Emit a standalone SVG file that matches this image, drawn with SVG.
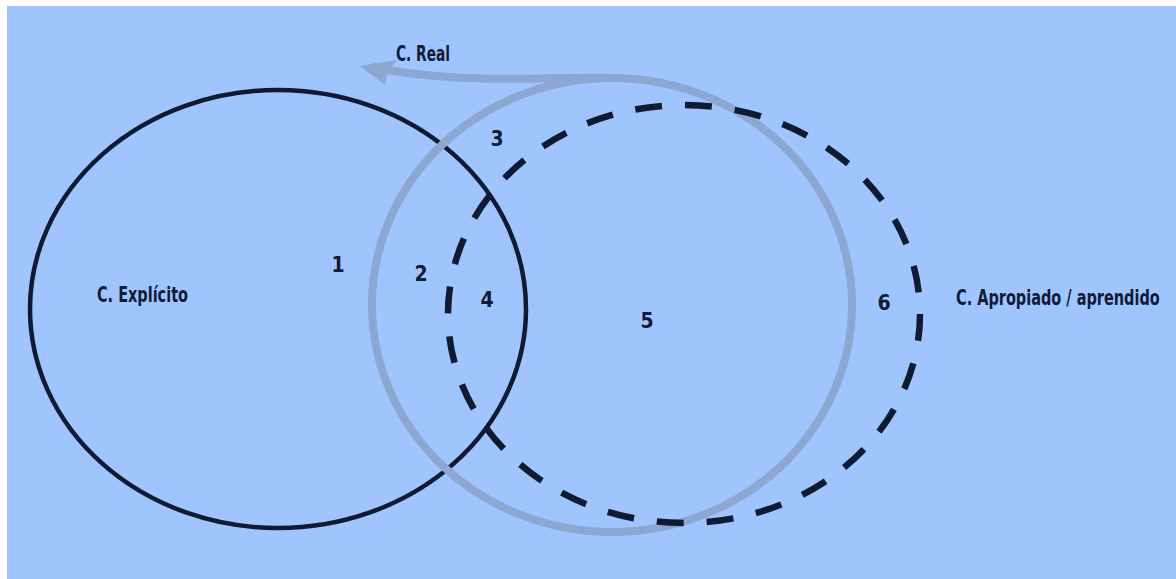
<svg xmlns="http://www.w3.org/2000/svg" width="1176" height="579" viewBox="0 0 1176 579">
<style>
.lbl{font-family:"DejaVu Sans Condensed","Liberation Sans",sans-serif;font-weight:bold;fill:#101b36;font-size:21px}
.num{font-family:"DejaVu Sans Condensed","Liberation Sans",sans-serif;font-weight:bold;fill:#101b36;font-size:21px;text-anchor:middle}
</style>
<rect width="1176" height="579" fill="#ffffff"/>
<rect x="7" y="6" width="1169" height="573" fill="#a0c5fe"/>
<g id="explicito">
<ellipse cx="278" cy="309" rx="248" ry="219" fill="none" stroke="#0f1a33" stroke-width="4.5"/>
<text class="lbl" x="97" y="302" textLength="91" lengthAdjust="spacingAndGlyphs">C. Explícito</text>
</g>
<g id="real">
<ellipse cx="612" cy="305" rx="240" ry="227" fill="none" stroke="#8ba7d2" stroke-width="8"/>
<text class="lbl" x="396" y="61" textLength="54" lengthAdjust="spacingAndGlyphs">C. Real</text>
</g>
<g id="connectors">
<path d="M 615,78 C 560,77 500,81 450,77 C 420,75 395,72 372,67" fill="none" stroke="#8ba7d2" stroke-width="8"/>
<polygon points="360,66 397,60 388,71 385,85" fill="#8ba7d2"/>
</g>
<g id="apropiado">
<ellipse cx="684" cy="314" rx="236" ry="209" fill="none" stroke="#0f1a33" stroke-width="6.5" stroke-dasharray="27 23"/>
<text class="lbl" transform="translate(956,305) scale(0.72,1)" x="0" y="0" textLength="283" lengthAdjust="spacingAndGlyphs">C. Apropiado / aprendido</text>
</g>
<g id="numbers">
<text class="num" x="338" y="272">1</text>
<text class="num" x="421" y="281">2</text>
<text class="num" x="497" y="146">3</text>
<text class="num" x="487" y="307">4</text>
<text class="num" x="647" y="328">5</text>
<text class="num" x="884" y="310">6</text>
</g>
</svg>
